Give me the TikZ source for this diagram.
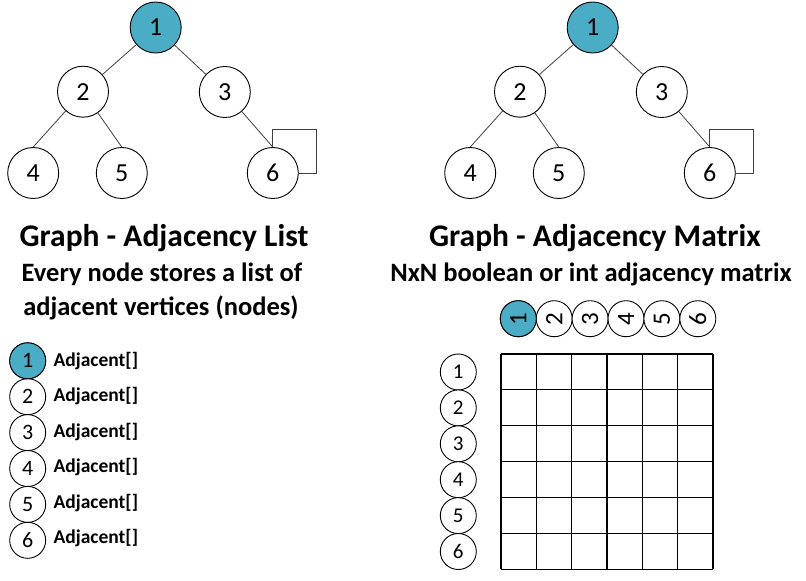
\documentclass[tikz,border=0pt]{standalone}
\usepackage{fontspec}
\setmainfont{Carlito}
\definecolor{teal1}{RGB}{75,172,198}
\definecolor{edgegray}{RGB}{64,64,64}
\begin{document}
\begin{tikzpicture}[x=1pt,y=-1pt,
  tnode/.style={circle,draw=black,line width=0.9pt,fill=white,minimum size=51pt,inner sep=0pt,font=\fontsize{26}{26}\selectfont},
  snode/.style={circle,draw=black,line width=0.9pt,fill=white,minimum size=36pt,inner sep=0pt,font=\fontsize{22}{22}\selectfont},
  hnode/.style={snode,rotate=90,font=\fontsize{25}{25}\selectfont},
  rnode/.style={snode,font=\fontsize{21}{21}\selectfont},
  hl/.style={fill=teal1},
  tedge/.style={draw=edgegray,line width=0.8pt},
  title/.style={anchor=base,font=\fontsize{31.5}{31.5}\selectfont\bfseries,inner sep=0pt},
  subtitle/.style={anchor=base,font=\fontsize{26.5}{26.5}\selectfont\bfseries,inner sep=0pt},
  adj/.style={anchor=base west,font=\fontsize{19.5}{19.5}\selectfont\bfseries,inner sep=0pt},
  gridline/.style={draw=black,line width=1.1pt}]
\useasboundingbox (0,0) rectangle (806,581);
% trees
\foreach \dx/\p in {0/L,437/R}{
  \node[tnode,hl] (\p1) at (155.7+\dx,27.5) {1};
  \node[tnode] (\p2) at (83+\dx,91.7) {2};
  \node[tnode] (\p3) at (224.8+\dx,92) {3};
  \node[tnode] (\p4) at (33.2+\dx,173) {4};
  \node[tnode] (\p5) at (121.8+\dx,173) {5};
  \node[tnode] (\p6) at (272.8+\dx,173) {6};
  \coordinate (\p c) at (316.7+\dx,129.3);
  \draw[tedge] (\p1) -- (\p2);
  \draw[tedge] (\p1) -- (\p3);
  \draw[tedge] (\p2) -- (\p4.north);
  \draw[tedge] (\p2) -- (\p5.north);
  \draw[tedge] (\p3) -- (\p6.north);
  \draw[tedge] (\p6.north) |- (\p c) |- (\p6.east);
}
% titles
\node[title] (t1) at (164,246) {Graph - Adjacency List};
\node[title] (t2) at (595,246) {Graph - Adjacency Matrix};
\node[subtitle] (s1) at (162,281) {Every node stores a list of};
\node[subtitle] (s2) at (161,315) {adjacent vertices (nodes)};
\node[subtitle] (s3) at (591,281) {NxN boolean or int adjacency matrix};
% adjacency list
\foreach \i in {1,...,6}{
  \node[snode] (a\i) at (27.7,{360.8+35.9*(\i-1)}) {\i};
  \node[adj] (b\i) at (53.3,{366.5+35.4*(\i-1)}) {Adjacent[]};
}
\node[snode,hl] at (a1) {1};
% matrix header and row labels
\foreach \i in {1,...,6}{
  \node[hnode] (h\i) at ({518.3+35.9*(\i-1)},318.7) {\i};
  \node[rnode] (r\i) at (458.3,{372+35.9*(\i-1)}) {\i};
}
\node[hnode,hl] at (h1) {1};
% grid
\foreach \k in {0,...,6}{
  \draw[gridline] ({501+35.33*\k},354) -- ({501+35.33*\k},569.3);
  \draw[gridline] (501,{354+35.88*\k}) -- (713,{354+35.88*\k});
}
\end{tikzpicture}
\end{document}
